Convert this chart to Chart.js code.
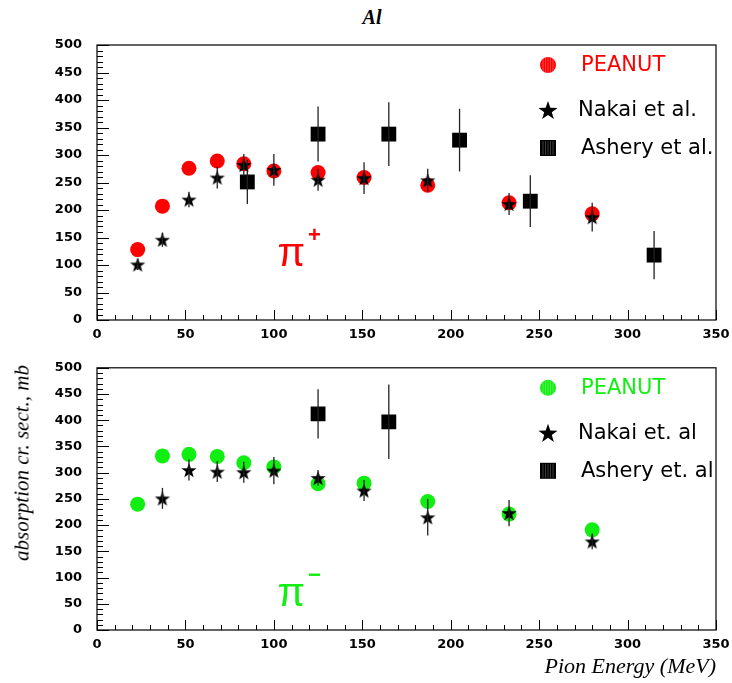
<!DOCTYPE html>
<html>
<head>
<meta charset="utf-8">
<script src="https://cdn.jsdelivr.net/npm/chart.js@4"></script>
<style>
body { margin: 0; background: #fff; }
#page { position: relative; width: 732px; height: 683px; overflow: hidden; }
#page canvas { position: absolute; left: 0; }
.lbl { position: absolute; font-family: "Liberation Serif", serif; font-style: italic; color: #000; white-space: nowrap; line-height: 1; }
#title { left: 0; width: 744px; top: 7px; text-align: center; font-weight: bold; font-size: 20px; }
#ytitle { left: 22px; top: 463px; font-size: 21px; transform: translate(-50%, -50%) rotate(-90deg); }
#xtitle { right: 16px; top: 655px; font-size: 22px; }
</style>
</head>
<body>
<div id="page">
  <div class="lbl" id="title">Al</div>
  <canvas id="plus" width="732" height="345" style="top:0"></canvas>
  <canvas id="minus" width="732" height="338" style="top:345px"></canvas>
  <div class="lbl" id="ytitle">absorption cr. sect., mb</div>
  <div class="lbl" id="xtitle">Pion Energy (MeV)</div>
</div>
<script>
// pi+ absorption on Al
const peanutPlusE = [23, 37, 52, 68, 83, 100, 125, 151, 187, 233, 280];
const peanutPlus  = [128, 207, 276, 289, 284, 271, 268, 259, 245, 213, 193];
const nakaiPlusE   = [23, 37, 52, 68, 83, 100, 125, 151, 187, 233, 280];
const nakaiPlus    = [101, 146, 219, 259, 282, 273, 255, 258, 254, 211, 187];
const nakaiPlusErr = [10, 13, 14, 20, 20, 29, 20, 29, 21, 20, 26];
const asheryPlusE   = [85, 125, 165, 205, 245, 315];
const asheryPlus    = [251, 338, 338, 327, 216, 118];
const asheryPlusErr = [40, 50, 58, 57, 47, 44];

// pi- absorption on Al
const peanutMinusE = [23, 37, 52, 68, 83, 100, 125, 151, 187, 233, 280];
const peanutMinus  = [240, 332, 335, 331, 319, 311, 279, 280, 245, 221, 191];
const nakaiMinusE   = [37, 52, 68, 83, 100, 125, 151, 187, 233, 280];
const nakaiMinus    = [251, 305, 302, 301, 304, 290, 266, 215, 223, 169];
const nakaiMinusErr = [20, 20, 20, 20, 26, 15, 20, 35, 25, 15];
const asheryMinusE   = [125, 165];
const asheryMinus    = [412, 397];
const asheryMinusErr = [47, 71];

const xTicks = [0, 350, 50];
const yTicks = [0, 500, 50];

const RED = '#ff0000';
const GREEN = '#11ee11';

Chart.defaults.font.family = '"DejaVu Sans", sans-serif';
Chart.defaults.color = '#000';

function drawStar(ctx, cx, cy, R) {
    const r = R * 0.4;
    ctx.beginPath();
    for (let i = 0; i < 10; i++) {
        const a = -Math.PI / 2 + i * Math.PI / 5;
        const rr = i % 2 ? r : R;
        ctx.lineTo(cx + rr * Math.cos(a), cy + rr * Math.sin(a));
    }
    ctx.closePath();
    ctx.fillStyle = '#000';
    ctx.fill();
}

function starImage(R) {
    const c = document.createElement('canvas');
    const s = Math.ceil(R * 2) + 2;
    c.width = c.height = s;
    drawStar(c.getContext('2d'), s / 2, s / 2 + R * 0.1, R);
    return c;
}

const starPoint = starImage(8);

function pts(xs, ys) {
    return xs.map((x, i) => ({ x: x, y: ys[i] }));
}

// vertical error bars, read from dataset.errors
const errorBars = {
    id: 'errorBars',
    afterDatasetsDraw(chart) {
        const ctx = chart.ctx, yScale = chart.scales.y;
        chart.data.datasets.forEach((ds, i) => {
            if (!ds.errors) return;
            const meta = chart.getDatasetMeta(i);
            ctx.save();
            ctx.strokeStyle = '#222';
            ctx.lineWidth = 1.3;
            meta.data.forEach((pt, j) => {
                const v = ds.data[j].y, e = ds.errors[j];
                ctx.beginPath();
                ctx.moveTo(pt.x, yScale.getPixelForValue(v + e));
                ctx.lineTo(pt.x, yScale.getPixelForValue(v - e));
                ctx.stroke();
            });
            ctx.restore();
        });
    }
};

// box around the plot with inward ticks on bottom and left
const frame = {
    id: 'frame',
    afterDraw(chart) {
        const ctx = chart.ctx, a = chart.chartArea;
        const xs = chart.scales.x, ys = chart.scales.y;
        ctx.save();
        ctx.strokeStyle = '#000';
        ctx.lineWidth = 1.2;
        ctx.strokeRect(a.left, a.top, a.right - a.left, a.bottom - a.top);
        ctx.lineWidth = 1;
        ctx.beginPath();
        for (let v = xTicks[0]; v <= xTicks[1]; v += 10) {
            const px = Math.round(xs.getPixelForValue(v)) + 0.5;
            ctx.moveTo(px, a.bottom);
            ctx.lineTo(px, a.bottom - (v % xTicks[2] === 0 ? 10 : 5));
        }
        for (let v = yTicks[0]; v <= yTicks[1]; v += 10) {
            const py = Math.round(ys.getPixelForValue(v)) + 0.5;
            ctx.moveTo(a.left, py);
            ctx.lineTo(a.left + (v % yTicks[2] === 0 ? 12 : 6), py);
        }
        ctx.stroke();
        ctx.restore();
    }
};

// legend box in the upper right corner of the plot
const sideLegend = {
    id: 'sideLegend',
    afterDraw(chart) {
        const ctx = chart.ctx, a = chart.chartArea;
        const mx = a.right - 168, tx = a.right - 135;
        const rows = [a.top + 20, a.top + 65, a.top + 103];
        const ds = chart.data.datasets;
        ctx.save();
        ctx.font = '21px "DejaVu Sans"';
        ctx.textBaseline = 'middle';
        ctx.textAlign = 'left';

        // circle with light hatch
        ctx.fillStyle = ds[0].backgroundColor;
        ctx.beginPath();
        ctx.arc(mx, rows[0], 8, 0, Math.PI * 2);
        ctx.fill();
        ctx.strokeStyle = 'rgba(255,255,255,0.35)';
        ctx.lineWidth = 0.8;
        ctx.beginPath();
        for (let d = -5; d <= 5; d += 2.5) {
            const h = Math.sqrt(64 - d * d);
            ctx.moveTo(mx + d, rows[0] - h);
            ctx.lineTo(mx + d, rows[0] + h);
        }
        ctx.stroke();
        ctx.fillText(ds[0].label, tx, rows[0] + 1);

        drawStar(ctx, mx, rows[1] + 1, 10);
        ctx.fillStyle = '#000';
        ctx.fillText(ds[1].label, tx - 3, rows[1] + 1);

        ctx.fillRect(mx - 8, rows[2] - 8, 16, 16);
        ctx.strokeStyle = 'rgba(255,255,255,0.3)';
        ctx.beginPath();
        for (let d = -5; d <= 5; d += 2.5) {
            ctx.moveTo(mx + d, rows[2] - 7);
            ctx.lineTo(mx + d, rows[2] + 7);
        }
        ctx.stroke();
        ctx.fillStyle = '#000';
        ctx.fillText(ds[2].label, tx, rows[2] + 1);
        ctx.restore();
    }
};

// the pion charge tag inside the plot
const chargeTag = {
    id: 'chargeTag',
    afterDraw(chart) {
        const o = chart.options.plugins.chargeTag;
        const ctx = chart.ctx;
        const x = chart.scales.x.getPixelForValue(o.x);
        const y = chart.scales.y.getPixelForValue(o.y);
        ctx.save();
        ctx.fillStyle = o.color;
        ctx.textBaseline = 'alphabetic';
        ctx.font = '40px "Liberation Sans"';
        ctx.fillText('π', x, y);
        const w = ctx.measureText('π').width;
        ctx.font = 'bold 22px "Liberation Sans"';
        ctx.fillText(o.sign, x + w + 3, y - 24);
        ctx.restore();
    }
};

function makeChart(id, d, tag, padTop, axisHeight) {
    return new Chart(document.getElementById(id), {
        type: 'scatter',
        data: {
            datasets: [{
                label: 'PEANUT',
                data: d.peanut,
                pointStyle: 'circle',
                radius: 7.5,
                hoverRadius: 7.5,
                borderWidth: 0,
                backgroundColor: d.color,
                order: 2
            }, {
                label: d.nakaiLabel,
                data: d.nakai,
                errors: d.nakaiErr,
                pointStyle: starPoint,
                radius: 8,
                backgroundColor: '#000',
                order: 1
            }, {
                label: d.asheryLabel,
                data: d.ashery,
                errors: d.asheryErr,
                pointStyle: 'rect',
                radius: 10.5,
                hoverRadius: 10.5,
                borderWidth: 0,
                backgroundColor: '#000',
                order: 0
            }]
        },
        options: {
            responsive: false,
            animation: false,
            events: [],
            layout: { padding: { top: padTop, right: 16, left: 0, bottom: 0 } },
            plugins: {
                legend: { display: false },
                tooltip: { enabled: false },
                chargeTag: tag
            },
            scales: {
                x: {
                    type: 'linear',
                    min: xTicks[0],
                    max: xTicks[1],
                    grid: { display: false, drawTicks: false },
                    border: { display: false },
                    ticks: { stepSize: xTicks[2], padding: 7, font: { size: 13, weight: 'bold' } },
                    afterFit: s => {
                        s.height = axisHeight;
                        s.paddingLeft = 0;
                        s.paddingRight = 0;
                    }
                },
                y: {
                    type: 'linear',
                    min: yTicks[0],
                    max: yTicks[1],
                    grid: { display: false, drawTicks: false },
                    border: { display: false },
                    ticks: { stepSize: yTicks[2], padding: 15, font: { size: 13, weight: 'bold' } },
                    afterFit: s => { s.width = 97; }
                }
            }
        },
        plugins: [errorBars, frame, sideLegend, chargeTag]
    });
}

makeChart('plus', {
    color: RED,
    peanut: pts(peanutPlusE, peanutPlus),
    nakai: pts(nakaiPlusE, nakaiPlus),
    nakaiErr: nakaiPlusErr,
    ashery: pts(asheryPlusE, asheryPlus),
    asheryErr: asheryPlusErr,
    nakaiLabel: 'Nakai et al.',
    asheryLabel: 'Ashery et al.'
}, { x: 102, y: 98, sign: '+', color: RED }, 45, 25);

makeChart('minus', {
    color: GREEN,
    peanut: pts(peanutMinusE, peanutMinus),
    nakai: pts(nakaiMinusE, nakaiMinus),
    nakaiErr: nakaiMinusErr,
    ashery: pts(asheryMinusE, asheryMinus),
    asheryErr: asheryMinusErr,
    nakaiLabel: 'Nakai et. al',
    asheryLabel: 'Ashery et. al'
}, { x: 102, y: 46, sign: '−', color: GREEN }, 11, 53);
</script>
</body>
</html>
